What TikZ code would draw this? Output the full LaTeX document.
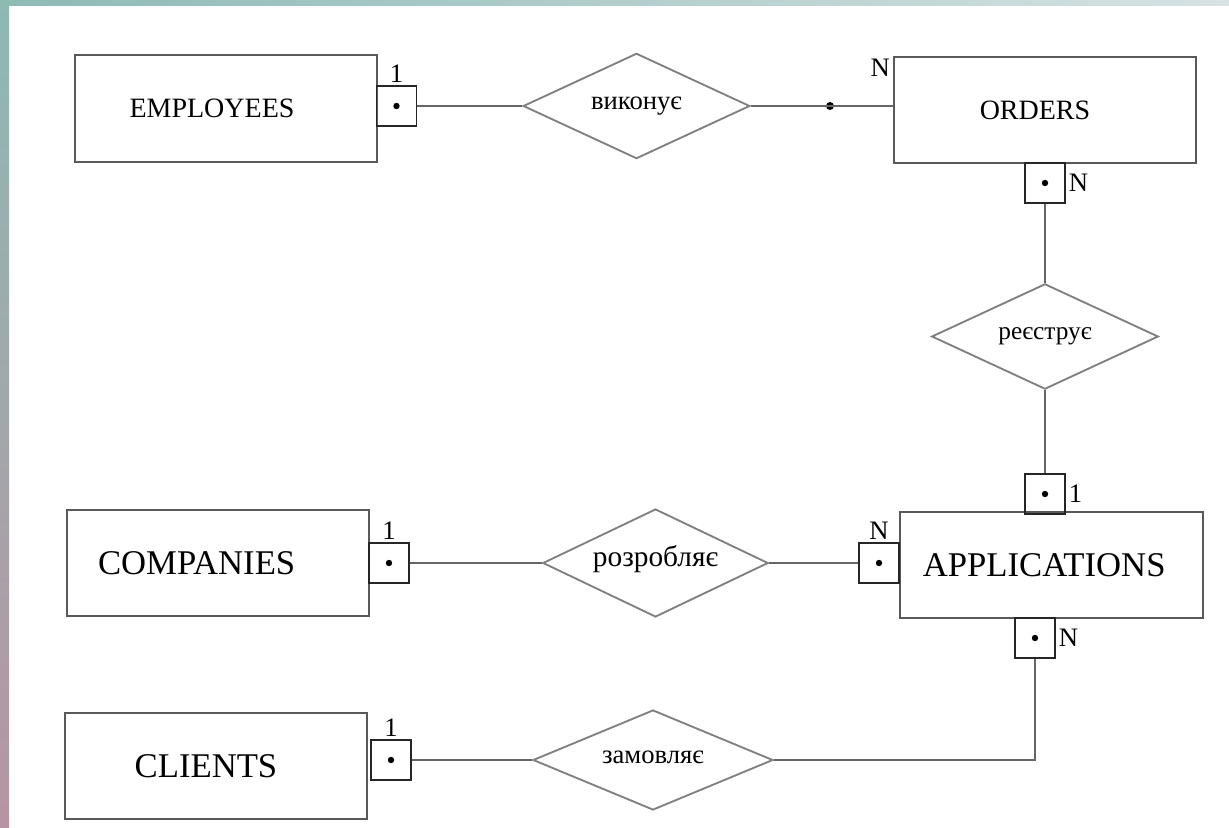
\documentclass[tikz,border=0pt]{standalone}
\usepackage{fontspec}
\setmainfont{Liberation Serif}
\usepackage{xcolor}
\usetikzlibrary{shapes.geometric}

\definecolor{stripTop}{HTML}{8DBAB3}
\definecolor{stripMid}{HTML}{B2B3C0}
\definecolor{stripBot}{HTML}{B794A3}
\definecolor{stripEnd}{HTML}{D6E2E4}

\begin{document}
\begin{tikzpicture}[x=0.75pt, y=-0.75pt,
  entity/.style={rectangle, draw=black!65, line width=1.4pt, minimum width=227pt, minimum height=80pt, font=\fontsize{26}{28}\selectfont},
  textshift/.style={execute at begin node={\hspace*{#1}}},
  relation/.style={diamond, aspect=2.1, draw=black!50, line width=1.4pt, inner sep=0pt, text height=1ex, text depth=0pt,
    minimum width=170pt, minimum height=79pt, font=\fontsize{20}{22}\selectfont},
  card/.style={rectangle, draw=black!85, line width=1.4pt, minimum size=30pt, inner sep=0pt,
    path picture={\fill (path picture bounding box.center) circle (2.4pt);}},
  lab/.style={font=\fontsize{20}{22}\selectfont, inner sep=2pt},
  link/.style={draw=black!60, line width=1.4pt}
]
\useasboundingbox (0,0) rectangle (1229,828);
\shade[top color=stripTop, middle color=stripMid, bottom color=stripBot] (0,0) rectangle (9,828);
\shade[left color=stripTop, right color=stripEnd] (0,0) rectangle (1229,5);

% entities
\node[entity, textshift=-21pt, font=\fontsize{21}{23}\selectfont] (emp) at (226,108.5) {EMPLOYEES};
\node[entity, textshift=-15pt, font=\fontsize{21}{23}\selectfont] (ord) at (1045,110) {ORDERS};
\node[entity, textshift=-11pt] (app) at (1051.5,565) {APPLICATIONS};
\node[entity, textshift=-32pt] (comp) at (218,563) {COMPANIES};
\node[entity, textshift=-15pt] (cli) at (216,766) {CLIENTS};

% relations
\node[relation] (vyk) at (636.5,106) {виконує};
\node[relation, font=\fontsize{19}{21}\selectfont] (reg) at (1045,336.5) {реєструє};
\node[relation, minimum width=169pt, minimum height=81pt, font=\fontsize{22}{24}\selectfont] (roz) at (655.5,563) {розробляє};
\node[relation, minimum width=180pt, minimum height=75pt] (zam) at (653,760) {замовляє};

% cardinality boxes
\node[card, label={[lab]above:1}] (emp1) at (396.5,106) {};
\node[card, label={[lab]right:N}] (ordN) at (1045,183) {};
\node[card, label={[lab]right:1}] (app1) at (1045,494) {};
\node[card, label={[lab]above:N}] (appL) at (879,563) {};
\node[card, label={[lab]above:1}] (comp1) at (389,563) {};
\node[card, label={[lab]right:N}] (appB) at (1035,638) {};
\node[card, label={[lab]above:1}] (cli1) at (391,760) {};
\node[lab, anchor=north east] (ordlab) at (ord.north west) {N};
\node[circle, fill, inner sep=0pt, minimum size=6pt] (orddot) at (830,106) {};

% connectors
\draw[link] (emp1) -- (vyk);
\draw[link] (vyk.east) -- (vyk.east -| ord.west);
\draw[link] (ordN) -- (reg);
\draw[link] (reg) -- (app1);
\draw[link] (comp1) -- (roz);
\draw[link] (roz) -- (appL);
\draw[link] (cli1) -- (zam);
\draw[link] (zam.east) -| (appB.south);
\end{tikzpicture}
\end{document}
